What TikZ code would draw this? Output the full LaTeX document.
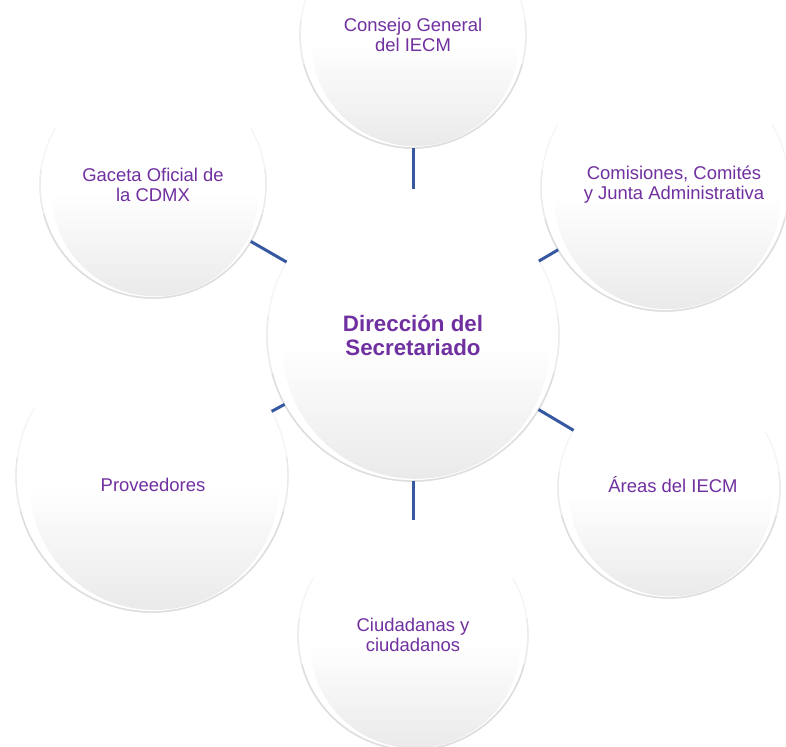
\documentclass[tikz,border=0pt]{standalone}
\usepackage{fontspec}
\setmainfont{Liberation Sans}
\definecolor{txtpurple}{HTML}{7030A0}
\definecolor{linkblue}{HTML}{3558A0}
\pgfdeclareverticalshading{orbsh}{100bp}{color(0bp)=(black!14); color(20bp)=(black!10); color(50bp)=(white); color(100bp)=(white)}
\tikzset{
  orbrim/.style={circle, fill=white, inner sep=0pt, outer sep=0pt},
  orbedge/.style={draw=black!13, line width=0.8pt},
  orbedgemid/.style={draw=black!8, line width=0.8pt},
  orbedgefaint/.style={draw=black!4, line width=0.8pt},
  orbshade/.style={shading=orbsh},
  orbtext/.style={align=center, text=txtpurple, inner sep=0pt, font=\fontsize{10.5}{11.3}\selectfont},
  hubtext/.style={align=center, text=txtpurple, inner sep=0pt, font=\bfseries\fontsize{12.7}{13.6}\selectfont},
  link/.style={draw=linkblue, line width=1.7pt}
}
\newcommand{\orb}[6]{%
  \node[orbrim, minimum size=#4*0.04cm] (#1) at (#2,#3) {};
  \draw[orbedgefaint] ({#2+#4*cos(-30)},{#3+#4*sin(-30)}) arc [start angle=-30, end angle=210, radius=#4];
  \draw[orbedgemid] ({#2+#4*cos(-8)},{#3+#4*sin(-8)}) arc [start angle=-8, end angle=188, radius=#4];
  \draw[orbedge] ({#2+#4*cos(15)},{#3+#4*sin(15)}) arc [start angle=15, end angle=165, radius=#4];
  \shade[orbshade] (#2+0.02*#4,#3+0.07*#4) circle [radius=0.915*#4];
  \node[#6] (#1-t) at (#2,#3) {#5};
}
\begin{document}
\begin{tikzpicture}[x=0.02cm,y=-0.02cm]
\useasboundingbox (0,0) rectangle (786,746);
\clip (0,0) rectangle (786,746);
\orb{hub}{413}{335}{146}{Dirección del\\Secretariado}{hubtext}
\orb{cg}{413}{35}{113}{Consejo General\\del IECM}{orbtext}
\orb{gac}{153}{185}{113}{Gaceta Oficial de\\la CDMX}{orbtext}
\orb{com}{665}{187}{124}{}{orbtext}
\node[orbtext] (com-label) at (674,185) {Comisiones, Comités\\y Junta Administrativa};
\orb{are}{669}{487}{111}{}{orbtext}
\node[orbtext] (are-label) at (673,485) {Áreas del IECM};
\orb{pro}{152}{476}{136}{}{orbtext}
\node[orbtext] (pro-label) at (153,485) {Proveedores};
\orb{ciu}{413}{635}{115}{Ciudadanas y\\ciudadanos}{orbtext}
\draw[link] (hub) -- (cg);
\draw[link] (hub) -- (gac);
\draw[link] (hub) -- (com);
\draw[link] (hub) -- (are);
\draw[link] (hub) -- (pro);
\draw[link] (hub) -- (ciu);
\end{tikzpicture}
\end{document}
